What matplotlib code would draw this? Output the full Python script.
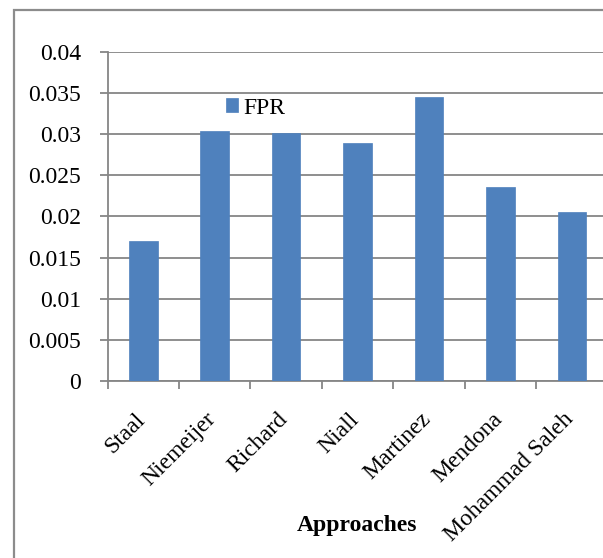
import matplotlib
matplotlib.use("Agg")
import matplotlib.pyplot as plt
from matplotlib.patches import Rectangle
import matplotlib.transforms as mtransforms
import numpy as np

categories = ["Staal", "Niemeijer", "Richard", "Niall", "Martinez", "Mendona", "Mohammad Saleh"]
fpr = [0.0170, 0.0304, 0.0301, 0.0289, 0.0345, 0.0236, 0.0205]
y_ticks = [0, 0.005, 0.01, 0.015, 0.02, 0.025, 0.03, 0.035, 0.04]
y_tick_labels = ["0", "0.005", "0.01", "0.015", "0.02", "0.025", "0.03", "0.035", "0.04"]

plt.rcParams["font.family"] = ["Liberation Serif", "DejaVu Serif"]

W, H = 603, 558
fig = plt.figure(figsize=(W / 100, H / 100), dpi=100)

# chart frame (extends past the right and bottom edges)
frame = Rectangle((14 / W, -0.05), 1.2, 1 - 10 / H + 0.05, transform=fig.transFigure,
                  fill=False, edgecolor="#8c8c8c", linewidth=1.6, clip_on=False)
fig.add_artist(frame)

ax_left, ax_right = 107.5 / W, 607.5 / W
ax_bottom, ax_top = 1 - 381 / H, 1 - 51.7 / H
ax = fig.add_axes([ax_left, ax_bottom, ax_right - ax_left, ax_top - ax_bottom])

grid_color = "#868686"
fs = 17
x = np.arange(len(categories))
bars = ax.bar(x, fpr, width=0.4, color="#4f81bd", edgecolor="#4f81bd", linewidth=0.5,
              zorder=3, label="FPR")

ax.set_xlim(-0.5, len(categories) - 0.5)
ax.set_ylim(0, 0.04)
ax.set_yticks(y_ticks)
ax.set_yticklabels(y_tick_labels, fontsize=fs)
ax.yaxis.grid(True, color=grid_color, linewidth=1.3, zorder=0)
ax.set_axisbelow(True)

# category ticks sit between bars
ax.set_xticks(np.arange(len(categories) + 1) - 0.5)
ax.set_xticklabels([])
ax.set_xticks(x, minor=True)
ax.set_xticklabels(categories, minor=True, rotation=45, ha="right", va="top",
                   fontsize=fs)
ax.tick_params(axis="x", which="minor", length=0, pad=20)
ax.tick_params(axis="x", which="major", length=6, width=1.3, color=grid_color)
ax.tick_params(axis="y", length=6, width=1.3, color=grid_color, pad=13)

# nudge rotated category labels slightly to the right
shift = mtransforms.ScaledTranslation(6 / 100, 0, fig.dpi_scale_trans)
for lbl in ax.get_xticklabels(minor=True):
    lbl.set_transform(lbl.get_transform() + shift)

for side in ["top", "right"]:
    ax.spines[side].set_visible(False)
for side in ["left", "bottom"]:
    ax.spines[side].set_color(grid_color)
    ax.spines[side].set_linewidth(1.3)

ax.set_xlabel("Approaches", fontsize=fs, fontweight="bold")
ax.xaxis.set_label_coords(0.5, (381 - 526) / 329.3)
ax.xaxis.label.set_va("center")

leg = ax.legend(loc="center left", bbox_to_anchor=(118 / 500, 1 - (108 - 51.7) / 329.3),
                frameon=False, fontsize=fs, handlelength=0.55, handleheight=0.55,
                handletextpad=0.2, borderpad=0, borderaxespad=0)

fig.savefig("out.png", dpi=100)
